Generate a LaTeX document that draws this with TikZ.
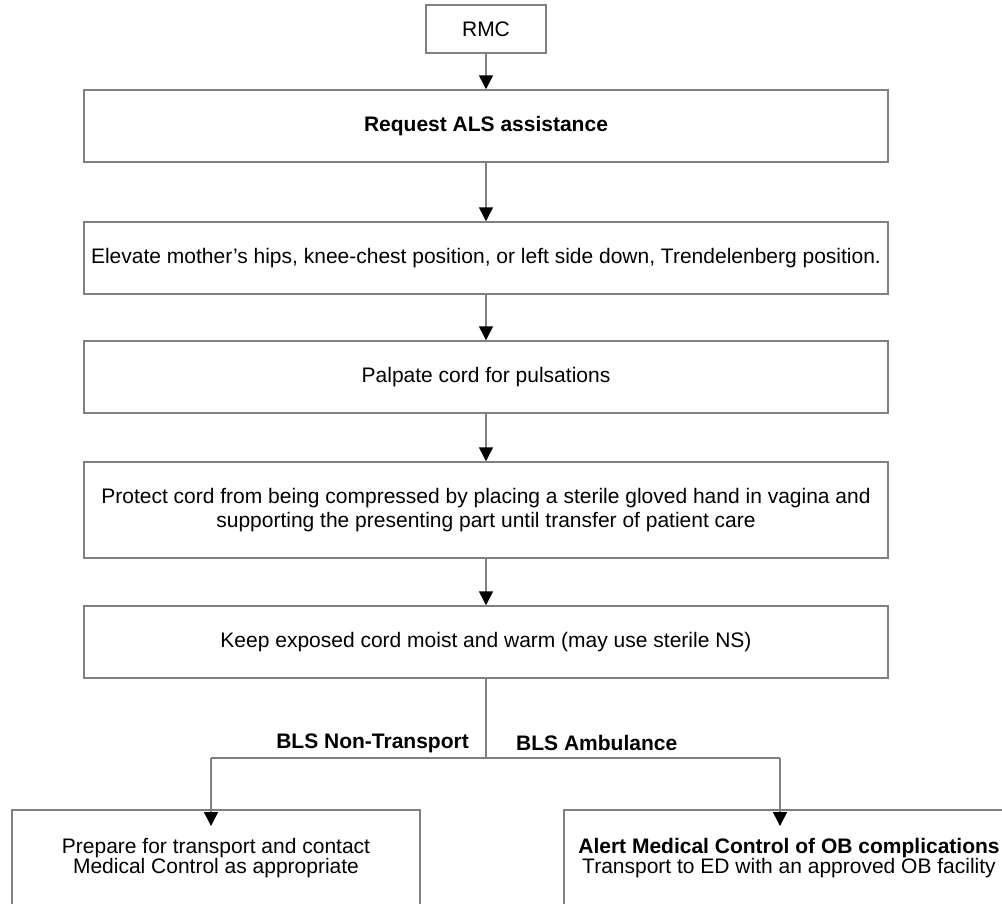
\documentclass[tikz,border=0pt]{standalone}
\usepackage{fontspec}
\setmainfont{Liberation Sans}
\usepackage{tikz}
\usetikzlibrary{positioning}
\usetikzlibrary{arrows.meta}
\definecolor{edgegray}{HTML}{808080}
\tikzset{
  stepbox/.style={draw=edgegray, line width=1.5pt, align=center, inner sep=0pt,
    font=\fontsize{21}{24}\selectfont},
  wire/.style={draw=edgegray, line width=1.5pt},
  flow/.style={wire, -{Triangle[length=14pt,width=14pt,color=black]}},
  branchlabel/.style={font=\bfseries\fontsize{21}{24}\selectfont, inner sep=0pt},
  endtext/.style={align=center, inner sep=0pt, font=\fontsize{21}{20}\selectfont}
}
\begin{document}
\begin{tikzpicture}[x=1pt,y=-1pt]
\useasboundingbox (0,0) rectangle (1002,903);
\clip (0,0) rectangle (1002,903);
% main column
\node[stepbox, minimum width=120pt, minimum height=48pt] (rmc) at (486,29) {RMC};
\node[stepbox, minimum width=804pt, minimum height=72pt] (als) at (486,126) {\bfseries Request ALS assistance};
\node[stepbox, minimum width=804pt, minimum height=72pt] (hips) at (486,258) {Elevate mother’s hips, knee-chest position, or left side down, Trendelenberg position.};
\node[stepbox, minimum width=804pt, minimum height=72pt] (palp) at (486,377) {Palpate cord for pulsations};
\node[stepbox, minimum width=804pt, minimum height=96pt] (prot) at (486,510) {Protect cord from being compressed by placing a sterile gloved hand in vagina and\\supporting the presenting part until transfer of patient care};
\node[stepbox, minimum width=804pt, minimum height=72pt] (moist) at (486,642) {Keep exposed cord moist and warm (may use sterile NS)};
\draw[flow] (rmc) -- (als);
\draw[flow] (als) -- (hips);
\draw[flow] (hips) -- (palp);
\draw[flow] (palp) -- (prot);
\draw[flow] (prot) -- (moist);
% branch
\coordinate (fork) at (486,758);
\coordinate (forkl) at (211,758);
\coordinate (forkr) at (780,758);
\draw[wire] (moist.south) -- (fork);
\draw[wire] (forkl) -- (forkr);
\node[branchlabel, anchor=east] (nontr) at (469,743) {BLS Non-Transport};
\node[branchlabel, anchor=west] (amb) at (516,743) {BLS Ambulance};
% outcome boxes
\draw[wire] (12,960) |- (420,810) -- (420,960);
\draw[wire] (564,960) |- (1060,810);
\coordinate (leftin) at (211,826);
\coordinate (rightin) at (780,826);
\draw[flow] (forkl) -- (leftin);
\draw[flow] (forkr) -- (rightin);
\node[endtext] (prep) at (216,858) {Prepare for transport and contact\\Medical Control as appropriate};
\node[endtext] (alert) at (789,858) {\bfseries Alert Medical Control of OB complications\\Transport to ED with an approved OB facility};
\end{tikzpicture}
\end{document}
